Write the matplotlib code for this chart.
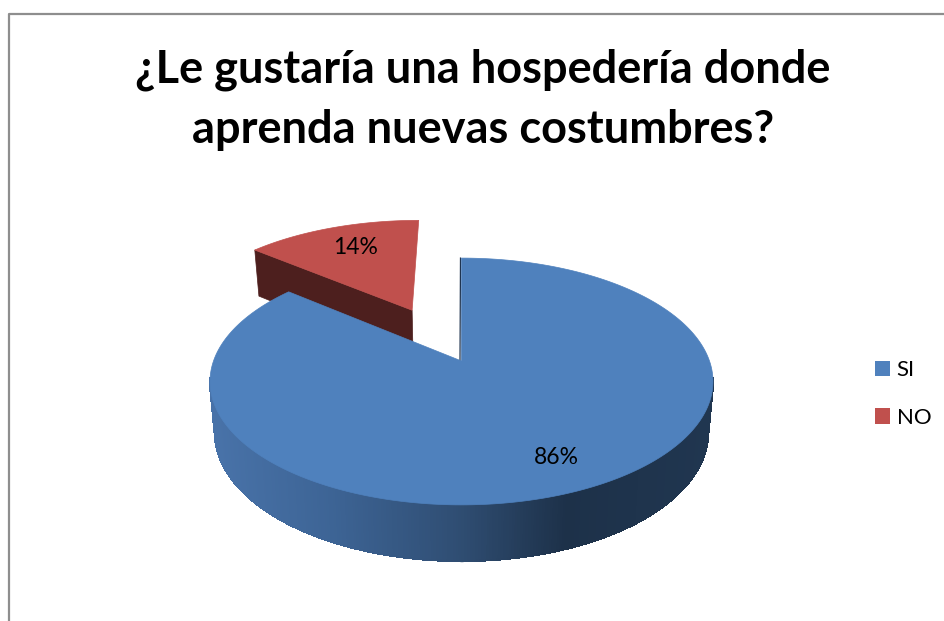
import numpy as np
import matplotlib
matplotlib.use("Agg")
import matplotlib.pyplot as plt
from matplotlib.collections import LineCollection, PolyCollection
from matplotlib.colors import to_rgb
from matplotlib.patches import Patch

title = "¿Le gustaría una hospedería donde\naprenda nuevas costumbres?"
categories = ["SI", "NO"]
values = [86, 14]
top_colors = ["#4f81bd", "#c0504d"]

plt.rcParams["font.family"] = ["Lato", "DejaVu Sans"]

# pie geometry in image pixels
cx, cy = 461.5, 361
a, b, k = 248, 120, 0.166
explode_no = 0.503


def project(u, v):
    w = 1 + k * v
    return cx + a * u / w, cy - b * v / w


def drop(x, y):
    # same point on the underside of the pie
    return cx + 0.98 * (x - cx), y + 46 + 0.039 * (y - 248)


def arc(start, end, off_u=0.0, off_v=0.0):
    theta = np.radians(np.linspace(start, end, 300))
    return project(np.sin(theta) + off_u, np.cos(theta) + off_v)


fig = plt.figure(figsize=(9.44, 6.21), dpi=100)
ax = fig.add_axes([0, 0, 1, 1])
ax.set_xlim(0, 944)
ax.set_ylim(621, 0)
ax.axis("off")

# chart frame, cut by the image on the right and at the bottom
ax.plot([9, 9, 944], [621, 14, 14], color="#8e8e8e", lw=1.6)

ax.text(483, 99.5, title, ha="center", va="center", fontsize=32.5, fontweight="bold",
        color="black", linespacing=1.53)

# slices run clockwise from 12 o'clock
si_end = 360 * values[0] / sum(values)
no_mid = np.radians((si_end + 360) / 2)
off_u, off_v = explode_no * np.sin(no_mid), explode_no * np.cos(no_mid)

# NO slice: cut wall and top
ax_no, ay_no = project(off_u, off_v)
rx, ry = arc(si_end, 360, off_u, off_v)
lx, ly = rx[0], ry[0]
bx, by = drop(np.array([lx, ax_no]), np.array([ly, ay_no]))
ax.fill([lx, ax_no, bx[1], bx[0]], [ly, ay_no, by[1], by[0]], color="#4d1f1e", lw=0.5, zorder=2)
ax.fill(np.r_[ax_no, rx], np.r_[ay_no, ry], color=top_colors[1], lw=0.5, zorder=3)

# SI slice: outer wall with a horizontal shade, front part only
sx, sy = arc(0, si_end)
fx, fy = arc(98, 262)
dx, dy = drop(fx, fy)
quads = [[(fx[i], fy[i]), (fx[i + 1], fy[i + 1]), (dx[i + 1], dy[i + 1]), (dx[i], dy[i])]
         for i in range(len(fx) - 1)]
stops_x = [215, 330, 460, 565, 710]
stops_c = np.array([to_rgb(c) for c in ["#4872a8", "#3d6495", "#2f4d72", "#1d3149", "#203650"]])
mid_x = (fx[:-1] + fx[1:]) / 2
shades = np.column_stack([np.interp(mid_x, stops_x, stops_c[:, i]) for i in range(3)])
ax.add_collection(PolyCollection(quads, facecolors=shades, edgecolors=shades, linewidths=1.0,
                                 antialiaseds=False, zorder=4))
# smooth lower rim, the quads above are not antialiased
rim = [[(dx[i], dy[i]), (dx[i + 1], dy[i + 1])] for i in range(len(dx) - 1)]
ax.add_collection(LineCollection(rim, colors=shades, linewidths=1.0, zorder=4))

# SI slice: thin inner wall seen at 12 o'clock, then the top
ax.plot([sx[0] - 1, cx - 1.5], [sy[0], cy], color="#1f3450", lw=0.9, zorder=5)
ax.fill(np.r_[cx, sx], np.r_[cy, sy], color=top_colors[0], lw=0.5, zorder=6)

ax.text(556, 457, f"{values[0]}%", ha="center", va="center", fontsize=16.5, zorder=7)
ax.text(356, 247, f"{values[1]}%", ha="center", va="center", fontsize=16.5, zorder=7)

handles = [Patch(facecolor=c, label=n) for c, n in zip(top_colors, categories)]
ax.legend(handles=handles, loc="center left", bbox_to_anchor=(855, 394), bbox_transform=ax.transData,
          frameon=False, fontsize=16, handlelength=0.68, handleheight=0.68,
          handletextpad=0.3, labelspacing=1.25)

fig.savefig("out.png", dpi=100)
